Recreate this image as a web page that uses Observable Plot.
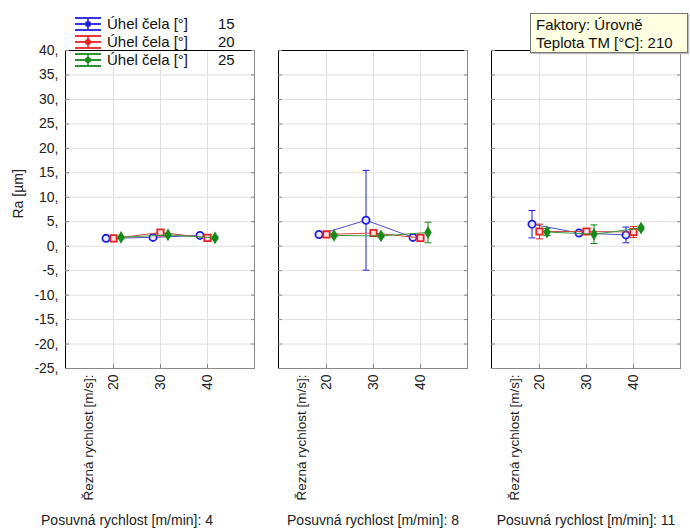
<!DOCTYPE html>
<html><head><meta charset="utf-8">
<script src="https://cdn.jsdelivr.net/npm/d3@7"></script>
<script src="https://cdn.jsdelivr.net/npm/@observablehq/plot@0.6"></script>
<style>
body{margin:0;background:#fff;font-family:"Liberation Sans",Arial,sans-serif;}
#wrap{position:relative;width:690px;height:529px;overflow:hidden;}
#wrap svg.plot{position:absolute;left:0;top:0;}
.legend{position:absolute;left:75px;top:15px;font-size:15px;color:#111;}
.legend .row{position:relative;height:18px;line-height:18px;white-space:nowrap;}
.legend .row svg{position:absolute;left:0;top:1px;}
.legend .lab{position:absolute;left:32px;top:0;}
.legend .val{position:absolute;left:143px;top:0;}
.factor{position:absolute;left:530px;top:13px;width:151px;height:36px;background:#ffffe1;border:1px solid #777;font-size:15px;line-height:18px;padding:2px 0 0 5px;color:#111;box-shadow:1px 1px 1px #bbb;}
</style></head><body><div id="wrap"></div>
<script>
// ---- data ----
const feeds = [4, 8, 11];              // Posuvná rychlost [m/min]
const speeds = [20, 30, 40];           // Řezná rychlost [m/s]
const angles = [15, 20, 25];           // Úhel čela [°]
const yTicks = [-25,-20,-15,-10,-5,0,5,10,15,20,25,30,35,40];
// Ra means, ordered feed 4 (20,30,40), feed 8 (20,30,40), feed 11 (20,30,40)
const ra15 = [1.6, 1.8, 2.2,   2.4, 5.3, 1.8,   4.5, 2.7, 2.3];
const ra20 = [1.6, 2.8, 1.7,   2.4, 2.7, 1.7,   3.0, 3.0, 2.9];
const ra25 = [1.8, 2.3, 1.7,   2.2, 2.1, 2.8,   2.9, 2.45, 3.7];
// error half-widths
const err15 = [0.3, 0.3, 0.3,  0.3, 10.2, 0.3,  2.8, 0.3, 1.6];
const err20 = [0.3, 0.3, 0.3,  0.3, 0.3, 0.3,   1.5, 0.3, 1.1];
const err25 = [0.3, 0.3, 0.3,  0.3, 0.3, 2.1,   0.7, 1.9, 0.4];

const series = [
  {angle: angles[0], ra: ra15, err: err15, color: "#1f1fe0", line: "#5050c8", dx: -7.5, symbol: "circle", fill: "#e8e8ff", r: 3.6},
  {angle: angles[1], ra: ra20, err: err20, color: "#e62222", line: "#d04848", dx: 0, symbol: "square", fill: "#ffe0e0", r: 3.6},
  {angle: angles[2], ra: ra25, err: err25, color: "#178a17", line: "#3a9a3a", dx: 7.5, symbol: "diamond", fill: "#178a17", r: 2.8}
];

const capSymbol = {draw(ctx, size){ const w = 3.5; ctx.moveTo(-w, 0); ctx.lineTo(w, 0); }};

const marks = [
  Plot.ruleY(yTicks, {stroke: "#e0e0e0"}),
  Plot.ruleX(speeds, {x: d => d, stroke: "#e0e0e0"}),
  Plot.frame({stroke: "#8a8a8a"}),
  Plot.frame({anchor: "left", stroke: "#000"}),
  Plot.frame({anchor: "top", stroke: "#000"}),
  Plot.axisY({ticks: yTicks, tickFormat: d => d + ",", tickSize: 0, tickPadding: 7, label: null, fontSize: 14, fill: "#222"}),
  Plot.axisY({anchor: "left", ticks: yTicks, tickSize: 4, dx: 4, tickFormat: () => "", label: null, facetAnchor: null, stroke: "#888"}),
  Plot.axisY({anchor: "right", ticks: yTicks, tickSize: 4, dx: -4, tickFormat: () => "", label: null, facetAnchor: null, stroke: "#888"}),
  Plot.axisX({anchor: "bottom", tickSize: 4, dy: -4, tickFormat: () => "", label: null, stroke: "#888"}),
  Plot.axisX({anchor: "bottom", tickSize: 0, tickPadding: 6, tickRotate: -90, label: null, fontSize: 14, fill: "#222"}),
  Plot.text(feeds, {fx: d => d, x: () => speeds[0], frameAnchor: "bottom", dx: -25, dy: 6, rotate: -90, textAnchor: "end", lineAnchor: "middle", text: () => "Řezná rychlost [m/s]:", fontSize: 13.5, fill: "#222"}),
  Plot.text([feeds[0]], {fx: d => d, frameAnchor: "bottom", dx: -33, dy: 152, lineAnchor: "middle", text: d => `Posuvná rychlost [m/min]: ${d}`, fontSize: 14, fill: "#222"}),
  Plot.text(feeds.slice(1), {fx: d => d, frameAnchor: "bottom", dy: 152, lineAnchor: "middle", text: d => `Posuvná rychlost [m/min]: ${d}`, fontSize: 14, fill: "#222"}),
  Plot.text(["Ra [µm]"], {fx: () => feeds[0], frameAnchor: "left", dx: -47, dy: 9, rotate: -90, lineAnchor: "middle", text: d => d, fontSize: 14, fill: "#222"})
];

for (const s of series) {
  const rows = [];
  feeds.forEach((f, i) => speeds.forEach((v, j) => {
    const k = i * speeds.length + j;
    rows.push({feed: f, speed: v, ra: s.ra[k], lo: s.ra[k] - s.err[k], hi: s.ra[k] + s.err[k]});
  }));
  marks.push(
    Plot.line(rows, {fx: "feed", x: "speed", y: "ra", stroke: s.line, strokeWidth: 1, dx: s.dx}),
    Plot.ruleX(rows, {fx: "feed", x: "speed", y1: "lo", y2: "hi", stroke: s.color, strokeWidth: 1, dx: s.dx}),
    Plot.dot(rows, {fx: "feed", x: "speed", y: "lo", symbol: capSymbol, stroke: s.color, strokeWidth: 1, dx: s.dx, r: 3}),
    Plot.dot(rows, {fx: "feed", x: "speed", y: "hi", symbol: capSymbol, stroke: s.color, strokeWidth: 1, dx: s.dx, r: 3}),
    Plot.dot(rows, {fx: "feed", x: "speed", y: "ra", symbol: s.symbol, r: s.r, fill: s.fill, stroke: s.color, strokeWidth: 1.8, dx: s.dx})
  );
}

const plot = Plot.plot({
  width: 690, height: 529,
  marginLeft: 64, marginRight: 8, marginTop: 50, marginBottom: 161,
  style: {fontFamily: "'Liberation Sans', Arial, sans-serif", fontSize: "13px", background: "transparent", color: "#222"},
  fx: {domain: feeds, paddingInner: 0.112, paddingOuter: 0, axis: null},
  x: {type: "point", domain: speeds, padding: 1},
  y: {domain: [-25, 40]},
  symbol: {type: "identity"},
  marks
});
plot.classList.add("plot");
const wrap = document.getElementById("wrap");
wrap.appendChild(plot);

// legend
const leg = document.createElement("div");
leg.className = "legend";
for (const s of series) {
  const row = document.createElement("div");
  row.className = "row";
  row.innerHTML = `<svg width="26" height="16">
    <line x1="0" x2="26" y1="2" y2="2" stroke="${s.color}" stroke-width="1.8"/>
    <line x1="0" x2="26" y1="8" y2="8" stroke="${s.color}" stroke-width="1.8"/>
    <line x1="0" x2="26" y1="14" y2="14" stroke="${s.color}" stroke-width="1.8"/>
    <line x1="13" x2="13" y1="2" y2="14" stroke="${s.color}" stroke-width="1.5"/>
    <circle cx="13" cy="8" r="3" fill="${s.color}"/></svg>
    <span class="lab">Úhel čela [°]</span><span class="val">${s.angle}</span>`;
  leg.appendChild(row);
}
wrap.appendChild(leg);

const fac = document.createElement("div");
fac.className = "factor";
fac.innerHTML = "Faktory: Úrovně<br>Teplota TM [°C]: 210";
wrap.appendChild(fac);
</script>
</body></html>
